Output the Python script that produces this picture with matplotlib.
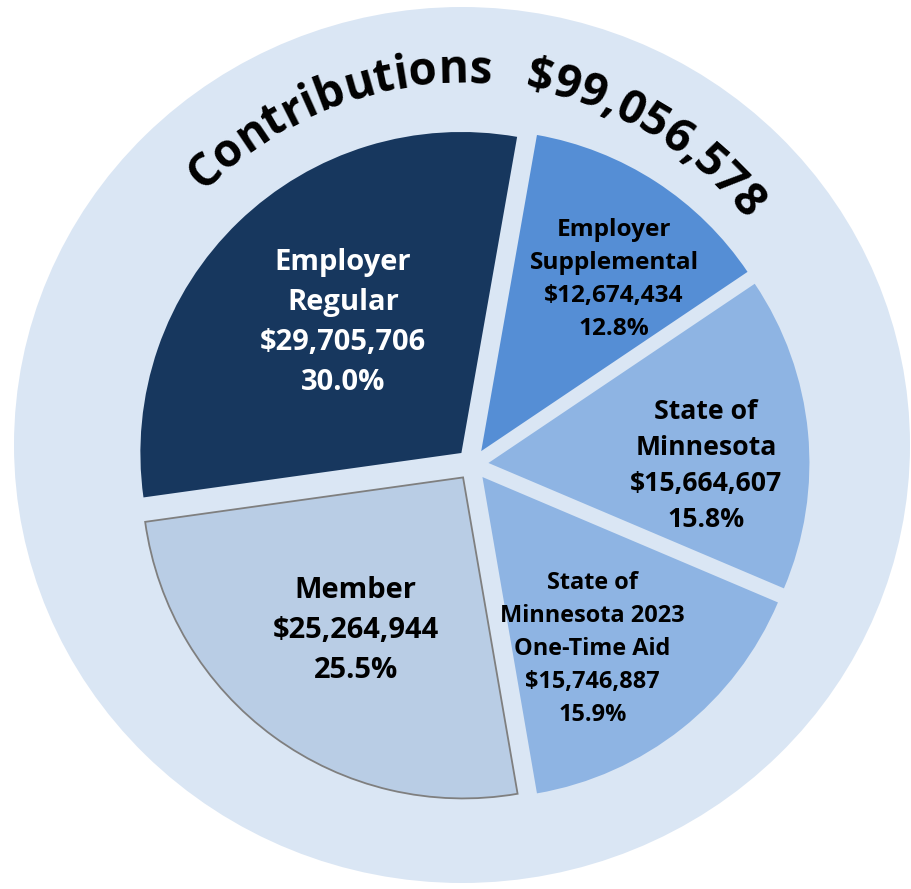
import numpy as np
import matplotlib
matplotlib.use('Agg')
import matplotlib.pyplot as plt
from matplotlib.patches import Ellipse
from matplotlib import font_manager

# data, clockwise from the top
categories = ['Employer\nSupplemental', 'State of\nMinnesota',
              'State of\nMinnesota 2023\nOne-Time Aid', 'Member',
              'Employer\nRegular']
amounts = [12674434, 15664607, 15746887, 25264944, 29705706]
percents = [12.8, 15.8, 15.9, 25.5, 30.0]
title_word = 'Contributions'
total_label = '$99,056,578'

colors = ['#558ED5', '#8EB4E3', '#8EB4E3', '#B9CDE5', '#17375E']
text_colors = ['black', 'black', 'black', 'black', 'white']
font_sizes = [17.6, 19.2, 16.9, 21, 21]
label_frac = [0.675, 0.678, 0.637, 0.583, 0.548]
label_nudge = [-4.8, -6.3, -5.8, 1.1, -1.7]

# pick a family that really has a bold face
FONT = 'DejaVu Sans'
for fam in ['Noto Sans', 'Open Sans', 'Lato', 'Liberation Sans']:
    path = font_manager.findfont(font_manager.FontProperties(family=fam, weight='bold'),
                                 fallback_to_default=False)
    if 'bold' in path.lower() and fam.split()[0].lower() in path.lower():
        FONT = fam
        break

W, H = 911, 889

fig = plt.figure(figsize=(W / 100, H / 100), dpi=100)
ax = fig.add_axes([0, 0, 1, 1])

# light background disc
ring_c = (462, H - 445)
ax.add_patch(Ellipse(ring_c, 896, 876, facecolor='#DAE6F4',
                     edgecolor='none', zorder=0))

# exploded pie
cx, cy, R = 472.5, H - 464.5, 321
gap = 16
wedges, _ = ax.pie(amounts, colors=colors, startangle=80, counterclock=False,
                   radius=R, center=(cx, cy), wedgeprops=dict(linewidth=0))
for i, w in enumerate(wedges):
    mid = np.deg2rad((w.theta1 + w.theta2) / 2)
    wc = (cx + gap * np.cos(mid), cy + gap * np.sin(mid))
    w.set_center(wc)
    w.set_zorder(2)
    if categories[i] == 'Member':
        w.set_edgecolor('#7F7F7F')
        w.set_linewidth(1.3)

    ang = np.deg2rad((w.theta1 + w.theta2) / 2 + label_nudge[i])
    d = label_frac[i] * R
    txt = f"{categories[i]}\n${amounts[i]:,}\n{percents[i]:.1f}%"
    ax.text(wc[0] + d * np.cos(ang), wc[1] + d * np.sin(ang), txt,
            ha='center', va='center', multialignment='center',
            fontsize=font_sizes[i], fontweight='bold', family=FONT,
            color=text_colors[i], linespacing=1.5, zorder=5)

ax.set_xlim(0, W)
ax.set_ylim(0, H)
ax.set_aspect('equal')
ax.axis('off')

# curved heading along the disc
renderer = fig.canvas.get_renderer()


def text_width(s, size):
    t = ax.text(0, 0, s, fontsize=size, fontweight='bold', family=FONT)
    wd = t.get_window_extent(renderer).width
    t.remove()
    return wd


def arc_text(s, start_deg, r, size):
    for i, ch in enumerate(s):
        pos = text_width(s[:i + 1], size) - text_width(ch, size) / 2
        th = np.deg2rad(start_deg) - pos / r
        x = ring_c[0] + r * np.cos(th)
        y = ring_c[1] + r * np.sin(th)
        ax.text(x, y, ch, fontsize=size, fontweight='bold', family=FONT,
                rotation=np.rad2deg(th) - 90, rotation_mode='anchor',
                ha='center', va='baseline', color='black', zorder=6)


arc_text(title_word, 135.5, 362, 33)
arc_text(total_label, 80, 362, 33)

fig.savefig('out.png', dpi=100)
